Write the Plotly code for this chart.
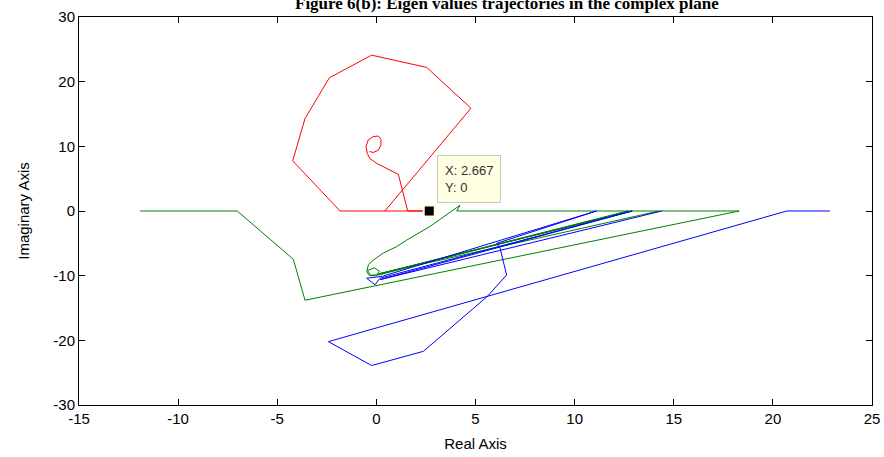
import plotly.graph_objects as go

# eigenvalue trajectories (real part, imaginary part)
red_re = [-0.35, -0.16, 0.10, 0.23, 0.23, 0.10, -0.16, -0.41, -0.52, -0.46, -0.32,
          0.02, 1.11, 1.58, 2.667, -1.83, -4.22, -3.60, -2.37, -0.24, 2.54, 4.77, 0.43]
red_im = [9.2, 9.05, 9.4, 10.2, 11.1, 11.6, 11.5, 11.0, 10.0, 8.9, 8.1,
          7.36, 5.66, 0, 0, 0, 7.76, 14.3, 20.6, 24.1, 22.2, 15.9, 0]

green_re = [-11.92, -7.02, -4.19, -3.60, 18.30, 4.05, 4.22, 2.70, 1.53, 1.03, 0.35,
            -0.16, -0.40, -0.49, -0.35, 0.00, 0.15, -0.10, -0.45, -0.30, 0.10,
            12.70, 0.05, 12.90, 0.15, 14.25]
green_im = [0, 0, -7.46, -13.8, 0, 0, 0.9, -2.4, -4.5, -5.5, -6.5,
            -7.6, -8.3, -9.4, -10.0, -10.0, -9.3, -8.8, -9.2, -9.9, -9.9,
            0, -9.8, 0, -9.7, 0]

blue_re = [22.88, 20.70, -2.42, -0.24, 2.37, 5.60, 6.57, 6.24, 6.07, 11.10,
           0.30, -0.49, -0.07, 0.18, 12.90, 0.20, 14.40]
blue_im = [0, 0, -20.2, -23.9, -21.7, -13.2, -9.9, -5.76, -5.0, 0,
           -10.1, -10.4, -11.4, -10.4, 0, -10.6, 0]

tip_x = [2.667]
tip_y = [0]

x_ticks = [-15, -10, -5, 0, 5, 10, 15, 20, 25]
y_ticks = [-30, -20, -10, 0, 10, 20, 30]

fig = go.Figure()
fig.add_trace(go.Scatter(x=red_re, y=red_im, mode="lines",
                         line=dict(color="#ff0000", width=1)))
fig.add_trace(go.Scatter(x=green_re, y=green_im, mode="lines",
                         line=dict(color="#008000", width=1)))
fig.add_trace(go.Scatter(x=blue_re, y=blue_im, mode="lines",
                         line=dict(color="#0000ff", width=1)))

# data tip marker
fig.add_trace(go.Scatter(x=tip_x, y=tip_y, mode="markers",
                         marker=dict(symbol="square", size=11, color="black",
                                     line=dict(color="#ffffe1", width=2))))

fig.add_annotation(x=3.06, y=1.24, xref="x", yref="y", xanchor="left", yanchor="bottom",
                   text="X: 2.667<br>Y: 0", showarrow=False, align="left",
                   bgcolor="#ffffe1", bordercolor="#c8c8c8", borderwidth=1, borderpad=7,
                   font=dict(family="Arial, Liberation Sans", size=13, color="#333333"))

# title is cut off at the top of the picture
fig.add_annotation(x=0.54, y=1.0, xref="paper", yref="paper", xanchor="center",
                   yanchor="bottom", yshift=2,
                   text="<b>Figure 6(b): Eigen values trajectories in the complex plane</b>",
                   showarrow=False,
                   font=dict(family="Liberation Serif, Times New Roman", size=17, color="black"))

tick_font = dict(family="Arial, Liberation Sans", size=15, color="black")
title_font = dict(family="Arial, Liberation Sans", size=15, color="black")

fig.update_xaxes(range=[-15, 25], tickvals=x_ticks, ticktext=[str(v) for v in x_ticks],
                 ticks="inside", ticklen=6, tickcolor="black", automargin=False,
                 showline=True, linecolor="black", linewidth=1, mirror="ticks",
                 showgrid=False, zeroline=False, tickfont=tick_font,
                 title=dict(text="Real Axis", font=title_font, standoff=12))
fig.update_yaxes(range=[-30, 30], tickvals=y_ticks, ticktext=[str(v) for v in y_ticks],
                 ticks="inside", ticklen=6, tickcolor="black", automargin=False,
                 showline=True, linecolor="black", linewidth=1, mirror="ticks",
                 showgrid=False, zeroline=False, tickfont=tick_font,
                 title=dict(text="Imaginary Axis", font=title_font, standoff=20))

fig.update_layout(width=884, height=457, showlegend=False,
                  plot_bgcolor="white", paper_bgcolor="white",
                  margin=dict(l=79, r=12, t=17, b=52, autoexpand=False))

# drop the page's default body margin so the figure sits at the window corner
fig.write_html("out.html", config={"displayModeBar": False},
               post_script="document.body.style.margin='0';")
